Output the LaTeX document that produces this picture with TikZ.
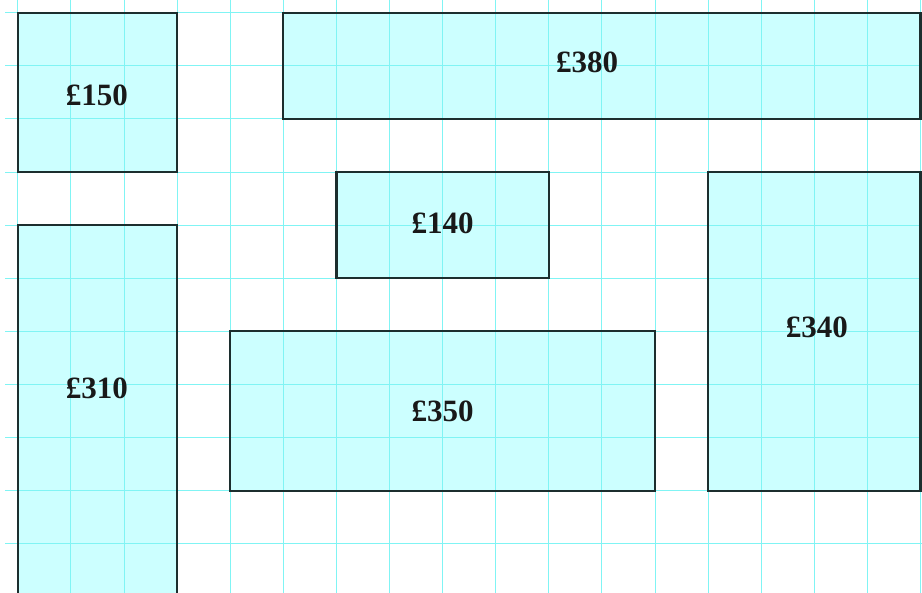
\documentclass[tikz,border=0pt]{standalone}
\usepackage{fontspec}
\setmainfont{Liberation Serif}
\definecolor{boxfill}{HTML}{CCFFFF}
\definecolor{gridcol}{HTML}{80F4F4}
\definecolor{edgecol}{HTML}{1C2E2E}
\tikzset{
  gridline/.style={draw=gridcol, line width=0.9pt},
  boxfillstyle/.style={fill=boxfill},
  boxedge/.style={draw=edgecol, line width=2.2pt},
  price/.style={font=\bfseries\fontsize{31}{31}\selectfont, text=black!90, inner sep=0pt}
}
\begin{document}
\begin{tikzpicture}[x=53.1pt,y=-53.1pt]
\useasboundingbox (-0.3352,-0.2392) rectangle (17.028,10.910);
\clip (-0.3352,-0.2392) rectangle (17.028,10.910);
% fills
\fill[boxfillstyle] (0,0) rectangle (3,3);
\fill[boxfillstyle] (5,0) rectangle (17,2);
\fill[boxfillstyle] (0,4) rectangle (3,11.5);
\fill[boxfillstyle] (6,3) rectangle (10,5);
\fill[boxfillstyle] (4,6) rectangle (12,9);
\fill[boxfillstyle] (13,3) rectangle (17,9);
% grid
\foreach \r in {0,...,10} { \draw[gridline] (-0.24,\r) -- (17.1,\r); }
\foreach \c in {0,...,17} { \draw[gridline] (\c,-0.3) -- (\c,11); }
% edges
\draw[boxedge] (0,0) rectangle (3,3);
\draw[boxedge] (5,0) rectangle (17,2);
\draw[boxedge] (0,4) rectangle (3,11.5);
\draw[boxedge] (6,3) rectangle (10,5);
\draw[boxedge] (4,6) rectangle (12,9);
\draw[boxedge] (13,3) rectangle (17,9);
% labels
\node[price] (l150) at (1.49,1.55) {£150};
\node[price] (l380) at (10.72,0.93) {£380};
\node[price] (l140) at (8.0,3.96) {£140};
\node[price] (l340) at (15.05,5.93) {£340};
\node[price] (l310) at (1.49,7.07) {£310};
\node[price] (l350) at (8.0,7.5) {£350};
\end{tikzpicture}
\end{document}
